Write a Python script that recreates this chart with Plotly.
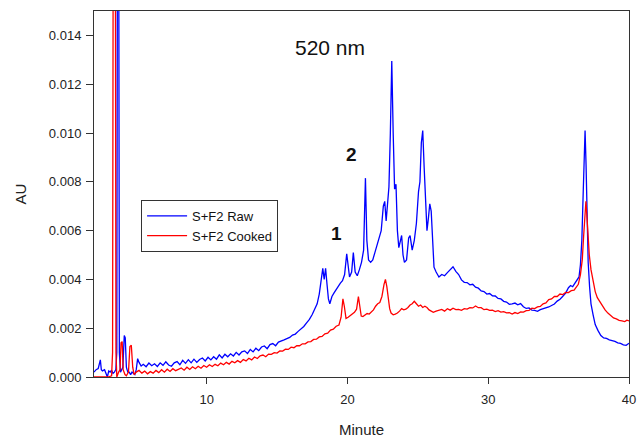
import plotly.graph_objects as go

# ---- Data ----
raw_x = [2.00, 2.15, 2.30, 2.40, 2.45, 2.52, 2.60, 2.75, 2.85, 2.95, 3.05, 3.15, 3.25, 3.35, 3.45, 3.55,
         3.62, 3.68, 3.74, 3.80, 3.88, 3.96, 4.05, 4.15, 4.22, 4.30, 4.40, 4.50, 4.60, 4.70, 4.80, 4.90,
         5.00, 5.10, 5.20, 5.35, 5.50, 5.70, 5.90, 6.10, 6.30, 6.50, 6.70, 6.90, 7.10, 7.30, 7.50, 7.70,
         7.90, 8.10, 8.30, 8.50, 8.70, 8.90, 9.10, 9.30, 9.50, 9.70, 9.90, 10.1, 10.3, 10.5, 10.7, 10.9,
         11.1, 11.3, 11.5, 11.7, 11.9, 12.1, 12.3, 12.5, 12.7, 12.9, 13.1, 13.3, 13.5, 13.7, 13.9, 14.1,
         14.3, 14.5, 14.7, 14.9, 15.1, 15.3, 15.5, 15.7, 15.9, 16.1, 16.3, 16.5, 16.7, 16.9, 17.1, 17.3,
         17.5, 17.7, 17.85, 18.0, 18.15, 18.25, 18.35, 18.45, 18.55, 18.65, 18.75, 18.9, 19.05, 19.2,
         19.35, 19.5, 19.65, 19.8, 19.95, 20.05, 20.15, 20.3, 20.42, 20.55, 20.7, 20.85, 21.0, 21.15,
         21.28, 21.38, 21.5, 21.65, 21.8, 21.95, 22.1, 22.25, 22.4, 22.55, 22.65, 22.75, 22.85, 22.95,
         23.05, 23.15, 23.25, 23.35, 23.45, 23.55, 23.65, 23.75, 23.85, 23.95, 24.05, 24.2, 24.35, 24.45,
         24.6, 24.75, 24.9, 25.05, 25.15, 25.25, 25.35, 25.45, 25.55, 25.65, 25.75, 25.85, 25.95, 26.05,
         26.15, 26.3, 26.5, 26.7, 26.9, 27.1, 27.3, 27.5, 27.7, 27.9, 28.1, 28.3, 28.5, 28.7, 28.9, 29.1,
         29.3, 29.5, 29.7, 29.9, 30.1, 30.3, 30.5, 30.7, 30.9, 31.1, 31.3, 31.5, 31.7, 31.9, 32.1, 32.3,
         32.5, 32.7, 32.9, 33.1, 33.3, 33.5, 33.7, 33.9, 34.1, 34.3, 34.5, 34.7, 34.9, 35.1, 35.3, 35.5,
         35.7, 35.85, 36.0, 36.15, 36.3, 36.45, 36.55, 36.65, 36.75, 36.83, 36.88, 36.95, 37.02, 37.1,
         37.2, 37.3, 37.45, 37.6, 37.8, 38.0, 38.2, 38.4, 38.6, 38.8, 39.0, 39.2, 39.4, 39.6, 39.8, 40.0]
raw_y = [0.00020, 0.00030, 0.00035, 0.00065, 0.00070, 0.00030, 0.00025, 0.00030, 0.00010, 0.00000,
         0.00025, 0.00020, 0.00028, 0.00015, 0.00020, 0.00030, 0.00100, 0.02500, 0.02500, 0.00100,
         0.00020, 0.00030, 0.00040, 0.00170, 0.00160, 0.00040, 0.00020, 0.00020, 0.00010, 0.00020,
         0.00015, 0.00010, 0.00030, 0.00075, 0.00060, 0.00045, 0.00052, 0.00042, 0.00057, 0.00046,
         0.00054, 0.00043, 0.00058, 0.00048, 0.00062, 0.00049, 0.00044, 0.00058, 0.00063, 0.00050,
         0.00068, 0.00056, 0.00071, 0.00058, 0.00073, 0.00060, 0.00072, 0.00078, 0.00066, 0.00081,
         0.00070, 0.00083, 0.00073, 0.00091, 0.00078, 0.00093, 0.00083, 0.00095, 0.00086, 0.00101,
         0.00090, 0.00103, 0.00107, 0.00096, 0.00113, 0.00103, 0.00118, 0.00108, 0.00123, 0.00127,
         0.00116, 0.00133, 0.00137, 0.00128, 0.00143, 0.00146, 0.00152, 0.00157, 0.00162, 0.00172,
         0.00176, 0.00187, 0.00196, 0.00207, 0.00222, 0.00236, 0.00256, 0.00280, 0.00300, 0.00340,
         0.00420, 0.00445, 0.00400, 0.00445, 0.00380, 0.00320, 0.00300, 0.00330, 0.00345, 0.00360,
         0.00370, 0.00385, 0.00395, 0.00420, 0.00505, 0.00440, 0.00410, 0.00430, 0.00510, 0.00430,
         0.00415, 0.00440, 0.00470, 0.00520, 0.00815, 0.00560, 0.00480, 0.00470, 0.00480, 0.00510,
         0.00540, 0.00560, 0.00600, 0.00700, 0.00720, 0.00640, 0.00700, 0.00780, 0.01000, 0.01295,
         0.01000, 0.00770, 0.00790, 0.00600, 0.00530, 0.00560, 0.00580, 0.00500, 0.00470, 0.00480,
         0.00570, 0.00580, 0.00520, 0.00560, 0.00630, 0.00760, 0.00800, 0.00960, 0.01010, 0.00860,
         0.00700, 0.00600, 0.00650, 0.00710, 0.00680, 0.00550, 0.00450, 0.00430, 0.00410, 0.00420,
         0.00415, 0.00428, 0.00440, 0.00452, 0.00433, 0.00420, 0.00398, 0.00388, 0.00387, 0.00378,
         0.00380, 0.00368, 0.00364, 0.00353, 0.00350, 0.00340, 0.00342, 0.00333, 0.00332, 0.00322,
         0.00320, 0.00310, 0.00307, 0.00298, 0.00300, 0.00303, 0.00296, 0.00301, 0.00288, 0.00281,
         0.00283, 0.00274, 0.00273, 0.00269, 0.00276, 0.00279, 0.00284, 0.00287, 0.00293, 0.00299,
         0.00311, 0.00319, 0.00331, 0.00344, 0.00366, 0.00375, 0.00370, 0.00385, 0.00395, 0.00410,
         0.00460, 0.00560, 0.00760, 0.00960, 0.01010, 0.00870, 0.00680, 0.00470, 0.00370, 0.00300,
         0.00255, 0.00215, 0.00190, 0.00170, 0.00160, 0.00158, 0.00152, 0.00150, 0.00146, 0.00140,
         0.00138, 0.00132, 0.00130, 0.00138]

cooked_x = [2.00, 2.50, 3.00, 3.25, 3.32, 3.38, 3.50, 3.56, 3.62, 3.75, 3.85, 3.92, 4.00, 4.07, 4.20,
            4.30, 4.45, 4.55, 4.65, 4.75, 4.85, 5.0, 5.2, 5.4, 5.6, 5.8, 6.0, 6.2, 6.4, 6.6, 6.8, 7.0,
            7.2, 7.4, 7.6, 7.8, 8.0, 8.2, 8.4, 8.6, 8.8, 9.0, 9.2, 9.4, 9.6, 9.8, 10.0, 10.2, 10.4,
            10.6, 10.8, 11.0, 11.2, 11.4, 11.6, 11.8, 12.0, 12.2, 12.4, 12.6, 12.8, 13.0, 13.2, 13.4,
            13.6, 13.8, 14.0, 14.2, 14.4, 14.6, 14.8, 15.0, 15.2, 15.4, 15.6, 15.8, 16.0, 16.2, 16.4,
            16.6, 16.8, 17.0, 17.2, 17.4, 17.6, 17.8, 18.0, 18.2, 18.4, 18.6, 18.8, 19.0, 19.2, 19.4,
            19.55, 19.68, 19.78, 19.9, 20.05, 20.2, 20.35, 20.5, 20.65, 20.78, 20.88, 20.98, 21.1,
            21.25, 21.4, 21.55, 21.7, 21.85, 22.0, 22.15, 22.3, 22.45, 22.6, 22.7, 22.8, 22.9, 23.0,
            23.1, 23.25, 23.4, 23.55, 23.7, 23.85, 24.0, 24.15, 24.3, 24.45, 24.6, 24.75, 24.9, 25.05,
            25.2, 25.35, 25.5, 25.65, 25.8, 25.95, 26.1, 26.3, 26.5, 26.7, 26.9, 27.1, 27.3, 27.5,
            27.7, 27.9, 28.1, 28.3, 28.5, 28.7, 28.9, 29.1, 29.3, 29.5, 29.7, 29.9, 30.1, 30.3, 30.5,
            30.7, 30.9, 31.1, 31.3, 31.5, 31.7, 31.9, 32.1, 32.3, 32.5, 32.7, 32.9, 33.1, 33.3, 33.5,
            33.7, 33.9, 34.1, 34.3, 34.5, 34.7, 34.9, 35.1, 35.3, 35.5, 35.7, 35.9, 36.1, 36.25, 36.4,
            36.55, 36.68, 36.78, 36.87, 36.94, 37.0, 37.08, 37.18, 37.3, 37.45, 37.6, 37.75, 37.9,
            38.1, 38.3, 38.5, 38.7, 38.9, 39.1, 39.3, 39.5, 39.7, 39.85, 40.0]
cooked_y = [0.00000, 0.00000, 0.00000, 0.00005, 0.00100, 0.02500, 0.02500, 0.00100, 0.00000, 0.00020,
            0.00030, 0.00140, 0.00145, 0.00030, 0.00010, 0.00005, 0.00020, 0.00125, 0.00130, 0.00040,
            0.00010, 0.00020, 0.00027, 0.00016, 0.00024, 0.00013, 0.00022, 0.00016, 0.00027, 0.00018,
            0.00030, 0.00020, 0.00032, 0.00023, 0.00034, 0.00026, 0.00032, 0.00037, 0.00028, 0.00040,
            0.00031, 0.00042, 0.00034, 0.00044, 0.00036, 0.00047, 0.00040, 0.00050, 0.00043, 0.00052,
            0.00046, 0.00057, 0.00050, 0.00060, 0.00053, 0.00064, 0.00058, 0.00067, 0.00060, 0.00072,
            0.00066, 0.00077, 0.00070, 0.00082, 0.00076, 0.00087, 0.00090, 0.00083, 0.00094, 0.00093,
            0.00100, 0.00098, 0.00107, 0.00106, 0.00114, 0.00113, 0.00122, 0.00120, 0.00128, 0.00128,
            0.00136, 0.00136, 0.00144, 0.00145, 0.00154, 0.00155, 0.00164, 0.00166, 0.00177, 0.00180,
            0.00192, 0.00196, 0.00208, 0.00213, 0.00245, 0.00320, 0.00290, 0.00240, 0.00245, 0.00252,
            0.00258, 0.00265, 0.00278, 0.00330, 0.00290, 0.00250, 0.00248, 0.00255, 0.00260, 0.00258,
            0.00265, 0.00275, 0.00290, 0.00300, 0.00305, 0.00330, 0.00380, 0.00400, 0.00370, 0.00320,
            0.00280, 0.00262, 0.00255, 0.00258, 0.00262, 0.00270, 0.00280, 0.00275, 0.00278, 0.00285,
            0.00295, 0.00300, 0.00310, 0.00300, 0.00290, 0.00295, 0.00285, 0.00290, 0.00285, 0.00275,
            0.00270, 0.00265, 0.00270, 0.00272, 0.00277, 0.00270, 0.00280, 0.00274, 0.00282, 0.00276,
            0.00277, 0.00273, 0.00280, 0.00278, 0.00284, 0.00283, 0.00291, 0.00284, 0.00284, 0.00276,
            0.00278, 0.00273, 0.00274, 0.00268, 0.00272, 0.00266, 0.00268, 0.00263, 0.00264, 0.00258,
            0.00264, 0.00260, 0.00267, 0.00266, 0.00272, 0.00273, 0.00282, 0.00280, 0.00287, 0.00289,
            0.00300, 0.00304, 0.00317, 0.00320, 0.00330, 0.00330, 0.00340, 0.00338, 0.00347, 0.00346,
            0.00354, 0.00356, 0.00368, 0.00380, 0.00420, 0.00480, 0.00580, 0.00680, 0.00720, 0.00670,
            0.00580, 0.00500, 0.00440, 0.00390, 0.00350, 0.00325, 0.00310, 0.00290, 0.00275, 0.00262,
            0.00250, 0.00242, 0.00238, 0.00232, 0.00230, 0.00227, 0.00233, 0.00230]

x_ticks = [10, 20, 30, 40]
y_ticks = [0.000, 0.002, 0.004, 0.006, 0.008, 0.010, 0.012, 0.014]
series_names = ["S+F2 Raw", "S+F2 Cooked"]

FONT = "Arial, 'Liberation Sans', sans-serif"

fig = go.Figure()
fig.add_trace(go.Scatter(x=raw_x, y=raw_y, mode="lines", name=series_names[0],
                         line=dict(color="#0000ff", width=1.3)))
fig.add_trace(go.Scatter(x=cooked_x, y=cooked_y, mode="lines", name=series_names[1],
                         line=dict(color="#ff0000", width=1.3)))

fig.add_annotation(x=18.76, y=0.0135, xref="x", yref="y", text="520 nm", showarrow=False,
                   font=dict(family=FONT, size=21, color="#111"))
fig.add_annotation(x=19.19, y=0.0059, xref="x", yref="y", text="<b>1</b>", showarrow=False,
                   font=dict(family=FONT, size=19, color="#111"))
fig.add_annotation(x=20.32, y=0.0091, xref="x", yref="y", text="<b>2</b>", showarrow=False,
                   font=dict(family=FONT, size=19, color="#111"))

fig.update_layout(
    width=639, height=444,
    margin=dict(l=94, r=10, t=11, b=67),
    paper_bgcolor="white", plot_bgcolor="white",
    font=dict(family=FONT, size=13, color="#222"),
    showlegend=True,
    legend=dict(x=0.088, y=0.484, xanchor="left", yanchor="top",
                bordercolor="#333", borderwidth=1, bgcolor="white", itemwidth=40,
                entrywidth=135, tracegroupgap=0,
                font=dict(family=FONT, size=13, color="#111")),
    xaxis=dict(range=[2, 40], tickvals=x_ticks, ticks="outside", ticklen=6, tickcolor="#333",
               ticklabelstandoff=4, automargin=False,
               showline=True, linecolor="#333", linewidth=1, mirror=True, showgrid=False,
               zeroline=False, title=dict(text="Minute", font=dict(size=15), standoff=18)),
    yaxis=dict(range=[0, 0.015], tickvals=y_ticks, tickformat=".3f", ticks="outside", ticklen=7,
               tickcolor="#333", ticklabelstandoff=2, automargin=False,
               showline=True, linecolor="#333", linewidth=1, mirror=True,
               showgrid=False, zeroline=False,
               title=dict(text="AU", font=dict(size=15), standoff=18)),
)

fig.write_html("out.html")
